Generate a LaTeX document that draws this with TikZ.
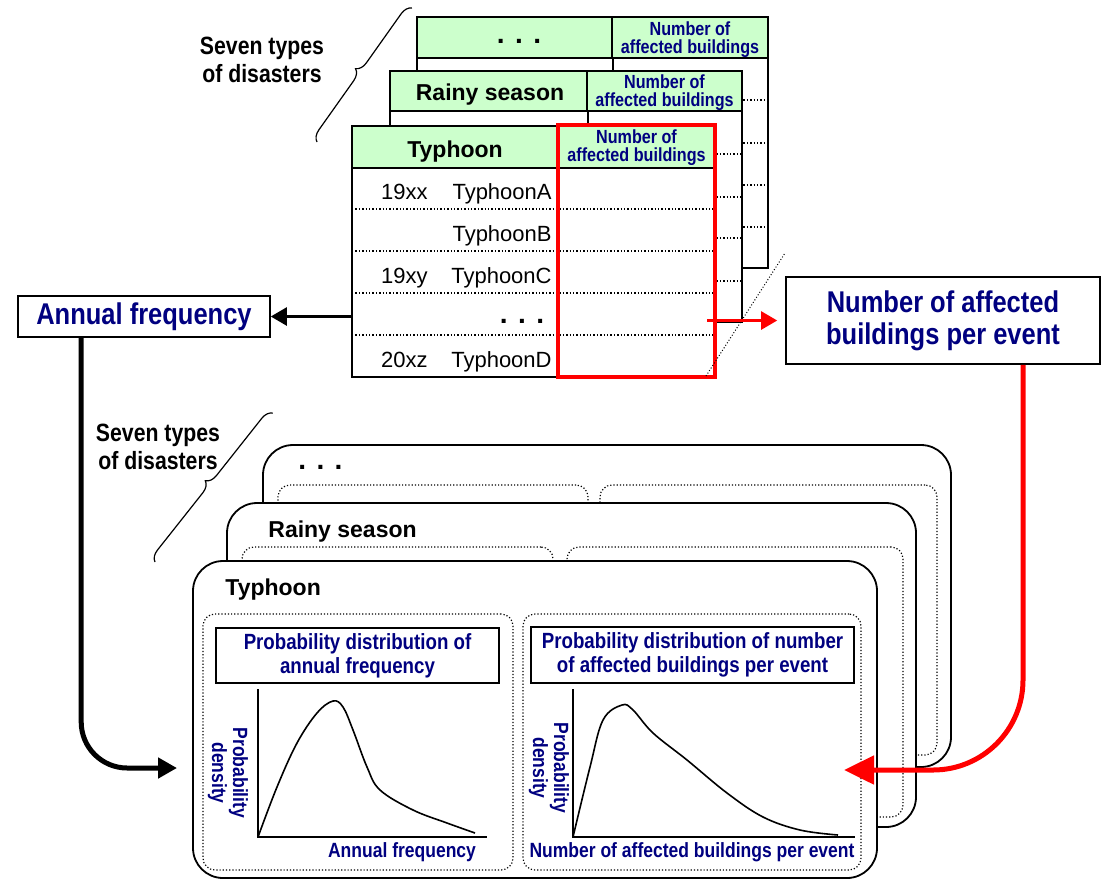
\documentclass[tikz,border=0pt]{standalone}
\usepackage{fontspec}
\setmainfont{Liberation Sans}
\newfontfamily\gothic{Liberation Sans}[FakeStretch=0.85]
\usepackage{xcolor}
\usetikzlibrary{arrows.meta, positioning, decorations.pathreplacing}
\definecolor{navytext}{RGB}{0,0,128}
\definecolor{headgreen}{RGB}{204,255,204}

\begin{document}
\begin{tikzpicture}[x=0.5pt, y=-0.5pt,
    tablebody/.style={draw=black, line width=0.9pt, fill=white, inner sep=0pt},
    headcell/.style={draw=black, line width=0.9pt, fill=headgreen, inner sep=0pt},
    rowline/.style={densely dotted, line width=0.7pt},
    colhead/.style={inner sep=0pt, align=center, text=navytext, font=\gothic\bfseries\fontsize{9.5}{9}\selectfont},
    tabtitle/.style={inner sep=0pt, anchor=base, font=\bfseries\fontsize{11.5}{13}\selectfont},
    rowtext/.style={inner sep=0pt, anchor=base east, font=\fontsize{11}{13}\selectfont},
    moredots/.style={inner sep=0pt, anchor=base, font=\bfseries\fontsize{14}{16}\selectfont},
    sidenote/.style={inner sep=0pt, align=center, font=\gothic\bfseries\fontsize{12.5}{14}\selectfont},
    bigbox/.style={draw=black, line width=0.8pt, fill=white, inner sep=0pt, align=center, text=navytext, font=\gothic\bfseries\fontsize{15}{16}\selectfont},
    disasterframe/.style={draw=black, line width=0.9pt, fill=white, rounded corners=15pt, inner sep=0pt},
    panel/.style={draw=black, densely dotted, line width=0.6pt, rounded corners=6pt, inner sep=0pt},
    titlebox/.style={draw=black, line width=0.8pt, fill=white, inner sep=0pt, align=center, text=navytext, font=\gothic\bfseries\fontsize{11}{12}\selectfont},
    axislabel/.style={inner sep=0pt, align=center, text=navytext, font=\gothic\bfseries\fontsize{10.3}{10.5}\selectfont},
    axisline/.style={line width=0.8pt},
    density/.style={line width=0.8pt},
    brace/.style={decorate, decoration={brace, amplitude=5.5pt}, line width=0.6pt},
    tablearrow/.style={line width=1.2pt, -{Triangle[length=8pt, width=9pt]}},
    countarrow/.style={red, line width=1.2pt, -{Triangle[length=8pt, width=9pt]}},
    freqflow/.style={line width=2.5pt, rounded corners=23pt, -{Triangle[length=9.5pt, width=10pt]}},
    eventflow/.style={red, line width=2.5pt, rounded corners=45pt, -{Triangle[length=15pt, width=14pt]}}]
\useasboundingbox (0,0) rectangle (1101,879);

% tables of events, back to front
\node[tablebody, minimum width=175.5pt, minimum height=125.5pt] (backtab) at (592.5,142.5) {};
\node[headcell, minimum width=97.5pt, minimum height=20.5pt] (backheadl) at (514.5,37.5) {};
\node[headcell, minimum width=78pt, minimum height=20.5pt] (backheadr) at (690,37.5) {};
\draw[axisline] (backheadl.south east) -- (backheadl.south east |- backtab.south);
\draw[rowline] (417,100) -- (768,100);
\draw[rowline] (417,143) -- (768,143);
\draw[rowline] (417,185) -- (768,185);
\draw[rowline] (417,227) -- (768,227);
\node[moredots] (backdots) at (519,43) {. . .};
\node[colhead] (backcount) at (690,40) {Number of\\affected buildings};

\node[tablebody, minimum width=176pt, minimum height=125.5pt] (rainytab) at (566,196.5) {};
\node[headcell, minimum width=98.5pt, minimum height=20pt] (rainyheadl) at (488.5,91) {};
\node[headcell, minimum width=77.5pt, minimum height=20pt] (rainyheadr) at (664.5,91) {};
\draw[axisline] (rainyheadl.south east) -- (rainyheadl.south east |- rainytab.south);
\draw[rowline] (390,154) -- (742,154);
\draw[rowline] (390,197) -- (742,197);
\draw[rowline] (390,238) -- (742,238);
\draw[rowline] (390,281) -- (742,281);
\node[tabtitle] (rainyname) at (490,100) {Rainy season};
\node[colhead] (rainycount) at (664.5,93) {Number of\\affected buildings};

\node[tablebody, minimum width=181.5pt, minimum height=125.5pt] (typhoontab) at (533.5,251.5) {};
\node[headcell, minimum width=103pt, minimum height=21pt] (typhoonheadl) at (455,147) {};
\node[headcell, minimum width=78.5pt, minimum height=21pt] (typhoonheadr) at (636.5,147) {};
\draw[rowline] (352,209) -- (715,209);
\draw[rowline] (352,251) -- (715,251);
\draw[rowline] (352,293) -- (715,293);
\draw[rowline] (352,335) -- (715,335);
\node[tabtitle] (typhoonname) at (455,157) {Typhoon};
\node[colhead] (typhooncount) at (636.5,148) {Number of\\affected buildings};
\node[rowtext] (yearA) at (428,199) {19xx};
\node[rowtext] (eventA) at (552,199) {TyphoonA};
\node[rowtext] (eventB) at (552,241) {TyphoonB};
\node[rowtext] (yearC) at (428,283) {19xy};
\node[rowtext] (eventC) at (552,283) {TyphoonC};
\node[moredots] (rowdots) at (522,323) {. . .};
\node[rowtext] (yearD) at (428,367) {20xz};
\node[rowtext] (eventD) at (552,367) {TyphoonD};
\node[draw=red, line width=2pt, inner sep=0pt, minimum width=78.5pt, minimum height=126pt] (countcol) at (636.5,251) {};
\draw[densely dotted, line width=0.5pt] (706,376) -- (785,253);

\node[sidenote] (toptypes) at (262,60) {Seven types\\of disasters};
\draw[brace] (317,142) -- (412,8);

% result boxes
\node[bigbox, minimum width=126pt, minimum height=20.5pt] (annual) at (144,316.5) {Annual frequency};
\node[bigbox, minimum width=157pt, minimum height=43.5pt] (affected) at (943,320.5) {Number of affected\\buildings per event};
\draw[tablearrow] (typhoontab.west |- annual.east) -- (annual.east);
\draw[countarrow] ([xshift=-5pt]countcol.east |- affected.west) -- ([xshift=-4pt]affected.west);

% distributions, back to front
\node[sidenote] (lowtypes) at (158,447) {Seven types\\of disasters};
\draw[brace] (155,562) -- (273,413);

\node[disasterframe, minimum width=344pt, minimum height=161pt] (backframe) at (607,606) {};
\node[panel, minimum width=155pt, minimum height=135pt] (backleft) at (433,620) {};
\node[panel, minimum width=168.5pt, minimum height=135pt] (backright) at (768.5,620) {};
\node[moredots, anchor=base west] (framedots) at (298,469) {. . .};

\node[disasterframe, minimum width=344.5pt, minimum height=162pt] (rainyframe) at (571.5,665) {};
\node[panel, minimum width=155.5pt, minimum height=135pt] (rainyleft) at (397.5,682) {};
\node[panel, minimum width=168pt, minimum height=135pt] (rainyright) at (735,682) {};
\node[tabtitle, anchor=base west] (rainylabel) at (268,537) {Rainy season};

\node[disasterframe, minimum width=342pt, minimum height=158.5pt] (typhoonframe) at (535,719.5) {};
\node[panel, minimum width=155pt, minimum height=128pt] (freqpanel) at (358,742) {};
\node[panel, minimum width=169pt, minimum height=128pt] (eventpanel) at (692,742) {};
\node[tabtitle, anchor=base west] (typhoonlabel) at (225,595) {Typhoon};

\node[titlebox, minimum width=141.5pt, minimum height=27.5pt] (freqtitle) at (357.5,655.5) {Probability distribution of\\annual frequency};
\draw[axisline] (258,689) -- (258,837) -- (487,837);
\draw[density] plot[smooth, tension=0.6] coordinates {(258,837) (277,787) (297,743) (317,713) (333,701) (343,707) (353,730) (367,767) (380,790) (413,810) (447,823) (475,833)};
\node[axislabel, rotate=-90] (freqdens) at (228,773) {Probability\\density};
\node[axislabel] (freqaxis) at (402,852) {Annual frequency};

\node[titlebox, minimum width=161.5pt, minimum height=28pt] (eventtitle) at (692.5,655) {Probability distribution of number\\of affected buildings per event};
\draw[axisline] (573,689) -- (573,837) -- (855,837);
\draw[density] plot[smooth, tension=0.6] coordinates {(573,837) (590,767) (603,720) (622,705) (633,710) (653,733) (687,760) (727,793) (763,817) (800,830) (838,835)};
\node[axislabel, rotate=-90] (eventdens) at (549,768) {Probability\\density};
\node[axislabel] (eventaxis) at (692,852) {Number of affected buildings per event};

% flows into the distributions
\coordinate (freqin) at (177,768);
\coordinate (eventin) at (844,770);
\draw[freqflow] ([xshift=32pt]annual.south west) |- (freqin);
\draw[eventflow] ([xshift=40pt]affected.south) |- (eventin);
\end{tikzpicture}
\end{document}
